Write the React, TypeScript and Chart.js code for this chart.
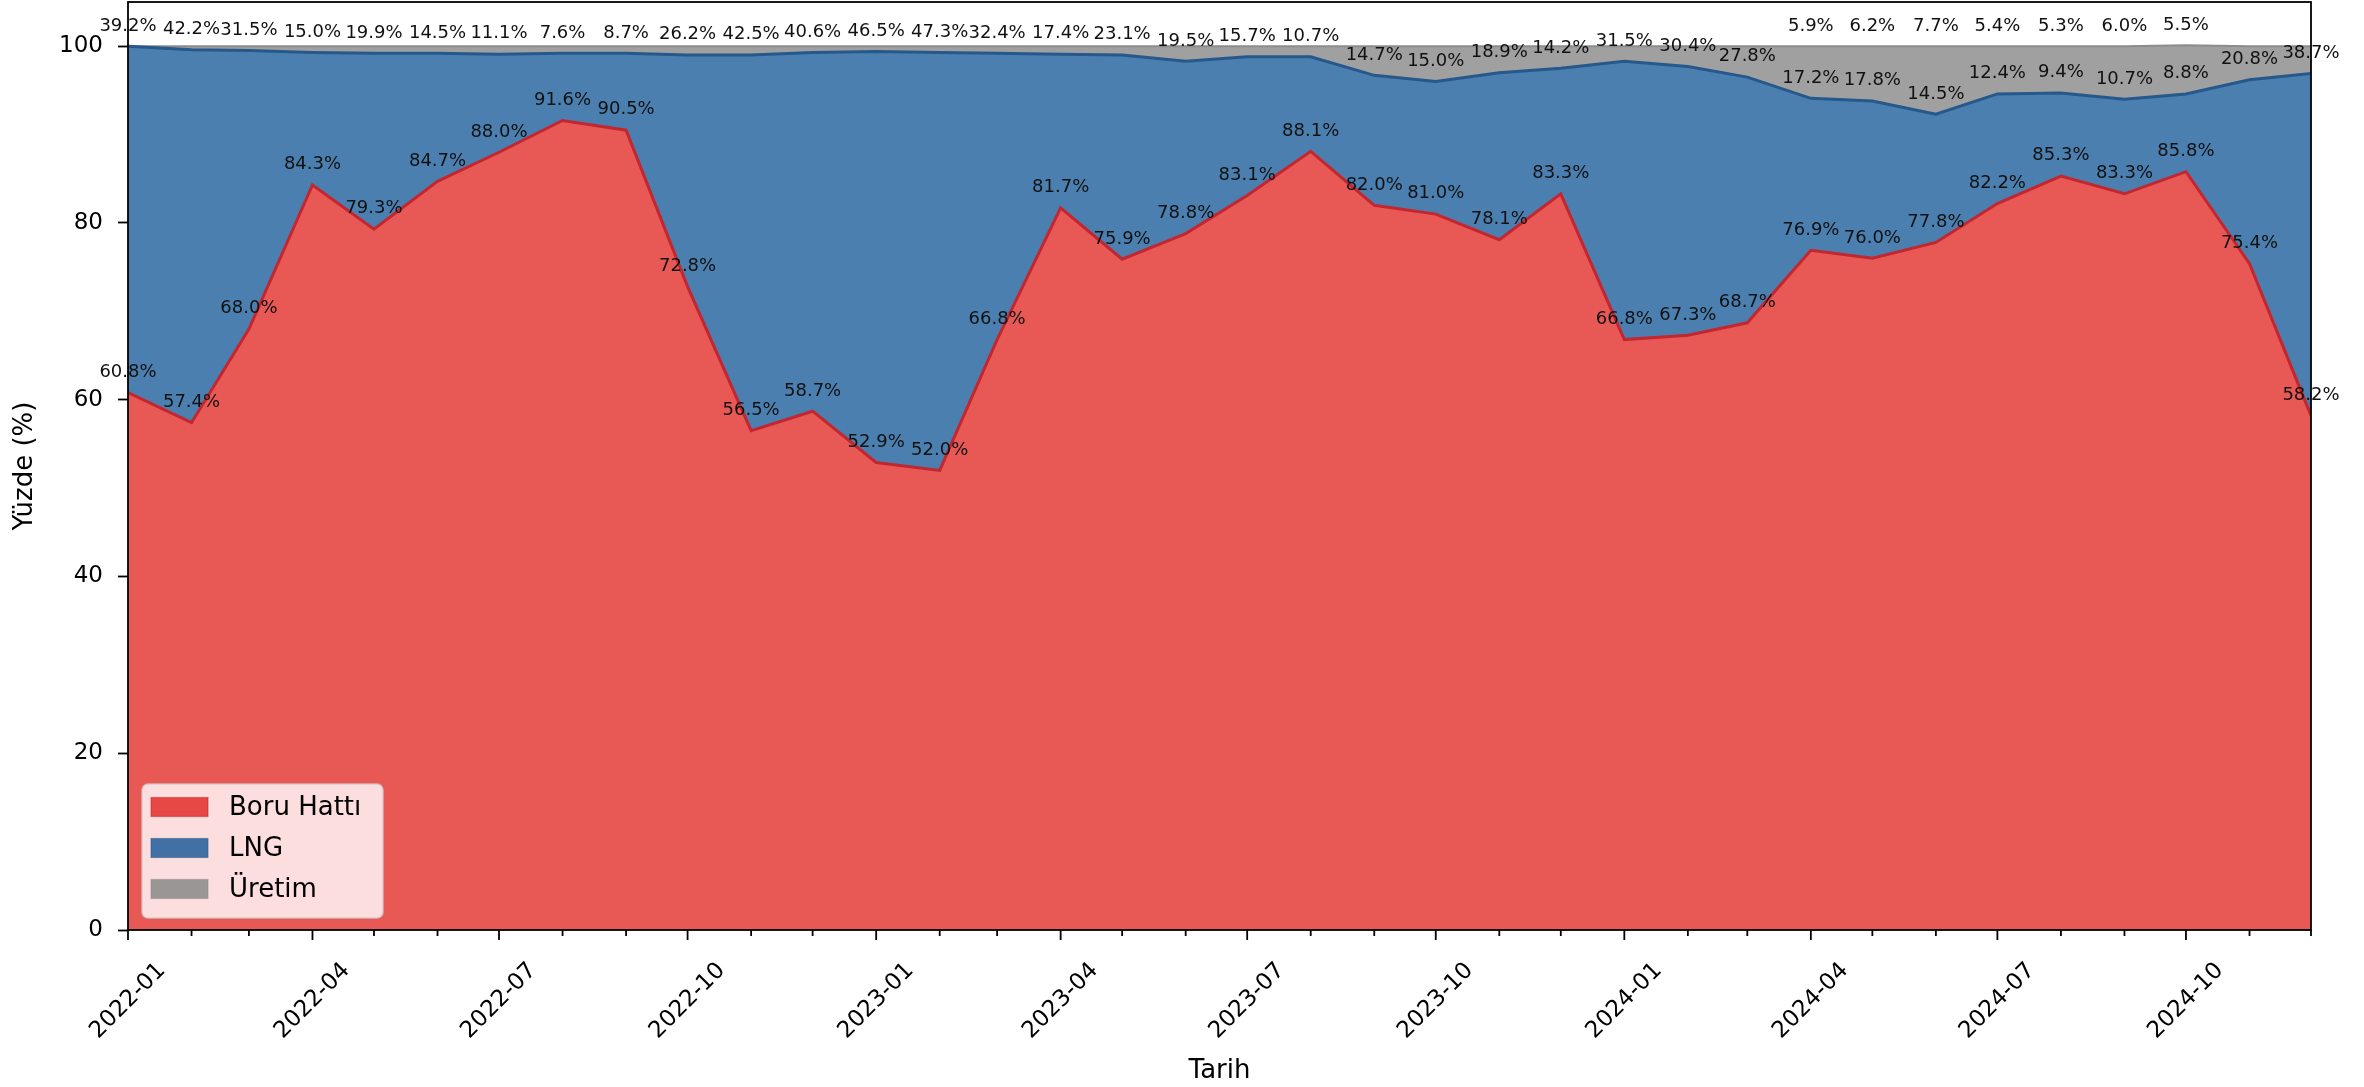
import React, { useEffect, useRef } from 'react';
import { Chart, registerables } from 'chart.js';

Chart.register(...registerables);

const months = [
  '2022-01', '2022-02', '2022-03', '2022-04', '2022-05', '2022-06', '2022-07', '2022-08', '2022-09', '2022-10', '2022-11', '2022-12',
  '2023-01', '2023-02', '2023-03', '2023-04', '2023-05', '2023-06', '2023-07', '2023-08', '2023-09', '2023-10', '2023-11', '2023-12',
  '2024-01', '2024-02', '2024-03', '2024-04', '2024-05', '2024-06', '2024-07', '2024-08', '2024-09', '2024-10', '2024-11', '2024-12',
];
const boruHatti = [
  60.8, 57.4, 68.0, 84.3, 79.3, 84.7, 88.0, 91.6, 90.5, 72.8, 56.5, 58.7,
  52.9, 52.0, 66.8, 81.7, 75.9, 78.8, 83.1, 88.1, 82.0, 81.0, 78.1, 83.3,
  66.8, 67.3, 68.7, 76.9, 76.0, 77.8, 82.2, 85.3, 83.3, 85.8, 75.4, 58.2,
];
const lng = [
  39.2, 42.2, 31.5, 15.0, 19.9, 14.5, 11.1, 7.6, 8.7, 26.2, 42.5, 40.6,
  46.5, 47.3, 32.4, 17.4, 23.1, 19.5, 15.7, 10.7, 14.7, 15.0, 18.9, 14.2,
  31.5, 30.4, 27.8, 17.2, 17.8, 14.5, 12.4, 9.4, 10.7, 8.8, 20.8, 38.7,
];
const uretim = [
  0.0, 0.4, 0.5, 0.7, 0.8, 0.8, 0.9, 0.8, 0.8, 1.0, 1.0, 0.7,
  0.6, 0.7, 0.8, 0.9, 1.0, 1.7, 1.2, 1.2, 3.3, 4.0, 3.0, 2.5,
  1.7, 2.3, 3.5, 5.9, 6.2, 7.7, 5.4, 5.3, 6.0, 5.5, 3.8, 3.1,
];
const yTicks = [0, 20, 40, 60, 80, 100];
const labeledMonths = ['2022-01', '2022-04', '2022-07', '2022-10', '2023-01', '2023-04', '2023-07', '2023-10', '2024-01', '2024-04', '2024-07', '2024-10'];
const seriesNames = ['Boru Hattı', 'LNG', 'Üretim'];

const FONT = "'DejaVu Sans', 'Liberation Sans', sans-serif";
const RED = 'rgb(232,89,86)';
const RED_EDGE = 'rgb(196,38,48)';
const BLUE = 'rgb(75,127,175)';
const BLUE_EDGE = 'rgb(38,88,140)';
const GRAY = 'rgb(160,160,160)';
const GRAY_EDGE = 'rgb(140,140,140)';
const LEGEND_PATCH = ['rgb(231,72,69)', 'rgb(66,112,165)', 'rgb(155,150,150)'];

const dayOf = (m: string) => {
  const [y, mo] = m.split('-').map(Number);
  return (Date.UTC(y, mo - 1, 1) - Date.UTC(2022, 0, 1)) / 86400000;
};

const overlayPlugin = {
  id: 'overlay',
  afterDraw(chart: any) {
    const { ctx, chartArea, scales } = chart;
    const xs = scales.x;
    const ys = scales.y;
    ctx.save();
    // frame
    ctx.strokeStyle = '#000';
    ctx.lineWidth = 1.8;
    ctx.strokeRect(chartArea.left, chartArea.top, chartArea.right - chartArea.left, chartArea.bottom - chartArea.top);

    // x ticks
    months.forEach((m) => {
      const px = xs.getPixelForValue(dayOf(m));
      const major = labeledMonths.includes(m);
      ctx.beginPath();
      ctx.moveTo(px, chartArea.bottom);
      ctx.lineTo(px, chartArea.bottom + (major ? 10 : 6));
      ctx.stroke();
    });
    // x tick labels rotated 45 deg, centred on tick
    ctx.fillStyle = '#000';
    ctx.font = `23px ${FONT}`;
    ctx.textAlign = 'center';
    ctx.textBaseline = 'middle';
    labeledMonths.forEach((m) => {
      const px = xs.getPixelForValue(dayOf(m));
      ctx.save();
      ctx.translate(px, chartArea.bottom + 71);
      ctx.rotate(-Math.PI / 4);
      ctx.fillText(m, 0, 0);
      ctx.restore();
    });

    // value labels
    ctx.font = `18px ${FONT}`;
    ctx.fillStyle = '#111';
    const off = 2.3;
    months.forEach((m, i) => {
      const px = xs.getPixelForValue(dayOf(m));
      const b = boruHatti[i];
      const l = b + lng[i];
      const u = l + uretim[i];
      ctx.fillText(`${boruHatti[i].toFixed(1)}%`, px, ys.getPixelForValue(b + off));
      ctx.fillText(`${lng[i].toFixed(1)}%`, px, ys.getPixelForValue(l + off));
      if (uretim[i] > 5) {
        ctx.fillText(`${uretim[i].toFixed(1)}%`, px, ys.getPixelForValue(u + off));
      }
    });

    // legend
    const lx = 142, ly = 784, lw = 241, lh = 134;
    ctx.beginPath();
    ctx.roundRect(lx, ly, lw, lh, 6);
    ctx.fillStyle = 'rgba(255,255,255,0.8)';
    ctx.fill();
    ctx.strokeStyle = 'rgba(204,204,204,0.8)';
    ctx.lineWidth = 1.5;
    ctx.stroke();
    const rows = [807, 848, 889];
    ctx.font = `26px ${FONT}`;
    ctx.textAlign = 'left';
    chart.data.datasets.forEach((ds: any, i: number) => {
      const cy = rows[i];
      ctx.fillStyle = LEGEND_PATCH[i];
      ctx.fillRect(151, cy - 9.5, 57, 19);
      ctx.strokeStyle = ds.borderColor;
      ctx.globalAlpha = 0.5;
      ctx.lineWidth = 1.2;
      ctx.strokeRect(151, cy - 9.5, 57, 19);
      ctx.globalAlpha = 1;
      ctx.fillStyle = '#000';
      ctx.fillText(ds.label, 229, cy + 1);
    });
    ctx.restore();
  },
};

export default function App() {
  const ref = useRef<HTMLCanvasElement | null>(null);
  useEffect(() => {
    if (!ref.current) return;
    const mk = (arr: number[]) => months.map((m, i) => ({ x: dayOf(m), y: arr[i] }));
    const chart = new Chart(ref.current, {
      type: 'line',
      data: {
        datasets: [
          { label: seriesNames[0], data: mk(boruHatti), fill: 'origin', backgroundColor: RED, borderColor: RED_EDGE, borderWidth: 3, pointRadius: 0, tension: 0 },
          { label: seriesNames[1], data: mk(lng), fill: '-1', backgroundColor: BLUE, borderColor: BLUE_EDGE, borderWidth: 3, pointRadius: 0, tension: 0 },
          { label: seriesNames[2], data: mk(uretim), fill: '-1', backgroundColor: GRAY, borderColor: GRAY_EDGE, borderWidth: 2, pointRadius: 0, tension: 0 },
        ],
      },
      options: {
        animation: false,
        responsive: false,
        devicePixelRatio: 1,
        layout: { padding: { left: 10, right: 53, top: 2, bottom: 0 } },
        plugins: { legend: { display: false }, tooltip: { enabled: false } },
        scales: {
          x: {
            type: 'linear',
            min: 0,
            max: dayOf(months[months.length - 1]),
            grid: { display: false },
            border: { display: false },
            ticks: { display: false },
            title: { display: true, text: 'Tarih', color: '#000', font: { family: FONT, size: 26 }, padding: 0 },
            afterFit: (s: any) => { s.height = 157; s.paddingLeft = 0; s.paddingRight = 0; },
          },
          y: {
            stacked: true,
            min: 0,
            max: 105,
            afterBuildTicks: (s: any) => { s.ticks = yTicks.map((v) => ({ value: v })); },
            grid: { drawOnChartArea: false, drawTicks: true, tickLength: 10, tickColor: '#000', tickWidth: 1.8 },
            border: { display: false },
            ticks: { color: '#000', font: { family: FONT, size: 23 }, padding: 15 },
            title: { display: true, text: 'Yüzde (%)', color: '#000', font: { family: FONT, size: 26 }, padding: 0 },
            afterFit: (s: any) => { s.width = 118; s.paddingTop = 0; s.paddingBottom = 0; },
          },
        },
      },
      plugins: [overlayPlugin],
    } as any);
    return () => chart.destroy();
  }, []);
  return (
    <div style={{ position: 'fixed', left: 0, top: 0, width: 2364, height: 1087, background: '#fff' }}>
      <canvas ref={ref} width={2364} height={1087} />
    </div>
  );
}
